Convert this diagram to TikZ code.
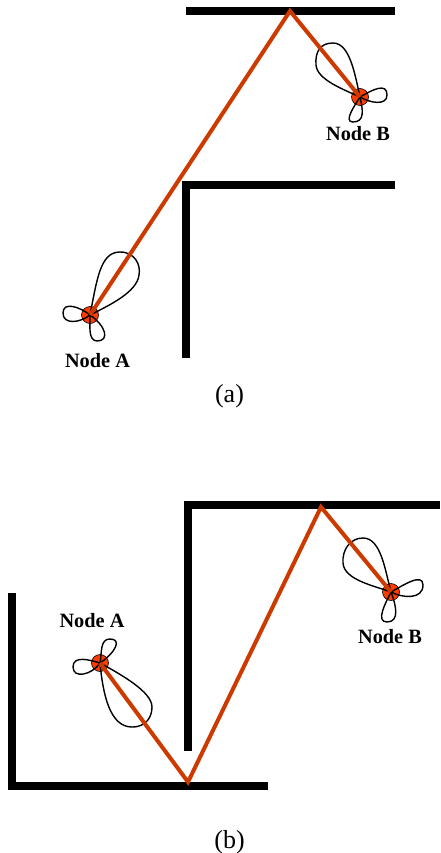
\documentclass[tikz,border=0pt]{standalone}
\usepackage{fontspec}
\setmainfont{Liberation Serif}
\definecolor{ray}{RGB}{204,58,0}
\definecolor{dot}{RGB}{250,60,5}
\tikzset{x=1pt,y=-1pt,
 wall/.style={line width=8pt,black},
 rayline/.style={line width=4pt,ray,line join=miter},
 lobe/.style={line width=1.4pt,black},
 antenna/.style={circle,fill=dot,draw=black,line width=0.6pt,minimum size=17pt,inner sep=0pt},
 nodelabel/.style={font=\bfseries\fontsize{20.3}{23}\selectfont,inner sep=0pt},
 caption/.style={font=\fontsize{26}{30}\selectfont,inner sep=0pt}}
\begin{document}
\begin{tikzpicture}
\useasboundingbox (0,0) rectangle (440,853);
% (a)
\draw[wall] (186,11) -- (395,11);
\draw[wall] (395,185) -- (186,185) -- (186,358);
\node[antenna] (a1) at (90,315) {};
\node[antenna] (b1) at (360,97) {};
\coordinate (r1) at (290,11);
\draw[lobe] (a1.center) .. controls (97,280) and (100,252) .. (120,252) .. controls (135,252) and (141,265) .. (139,275) .. controls (137,292) and (110,305) .. (a1.center);
\draw[lobe] (a1.center) .. controls (80,307) and (63,301) .. (63,313) .. controls (63,325) and (80,323) .. (a1.center);
\draw[lobe] (a1.center) .. controls (90,325) and (88,341) .. (97,341) .. controls (110,341) and (106,326) .. (a1.center);
\draw[lobe] (b1.center) .. controls (355,75) and (350,43) .. (333,43) .. controls (320,43) and (315,52) .. (316,65) .. controls (317,80) and (345,90) .. (b1.center);
\draw[lobe] (b1.center) .. controls (372,90) and (387,82) .. (387,95) .. controls (387,106) and (370,103) .. (b1.center);
\draw[lobe] (b1.center) .. controls (355,105) and (343,122) .. (353,122) .. controls (365,122) and (363,110) .. (b1.center);
\draw[rayline] (a1.center) -- (r1) -- (b1.center);
\node[nodelabel] (la1) at (97.5,361) {Node A};
\node[nodelabel] (lb1) at (358,134) {Node B};
\node[caption] (ca) at (229.5,396) {(a)};
% (b)
\draw[wall] (188,751) -- (188,505) -- (440,505);
\draw[wall] (12,593) -- (12,786) -- (268,786);
\node[antenna] (a2) at (100,663) {};
\node[antenna] (b2) at (391,592) {};
\coordinate (r2) at (188,782);
\coordinate (r3) at (321,507);
\draw[lobe] (a2.center) .. controls (102,652) and (100,639) .. (110,639) .. controls (122,639) and (116,652) .. (a2.center);
\draw[lobe] (a2.center) .. controls (90,660) and (73,655) .. (73,667) .. controls (73,679) and (92,675) .. (a2.center);
\draw[lobe] (a2.center) .. controls (103,695) and (110,727) .. (132,727) .. controls (147,727) and (152,716) .. (152,707) .. controls (152,692) and (122,675) .. (a2.center);
\draw[lobe] (b2.center) .. controls (385,570) and (381,538) .. (363,538) .. controls (350,538) and (342,550) .. (343,563) .. controls (344,580) and (375,586) .. (b2.center);
\draw[lobe] (b2.center) .. controls (386,602) and (375,622) .. (387,622) .. controls (400,622) and (396,605) .. (b2.center);
\draw[lobe] (b2.center) .. controls (402,586) and (423,572) .. (423,585) .. controls (423,600) and (402,598) .. (b2.center);
\draw[rayline] (a2.center) -- (r2) -- (r3) -- (b2.center);
\node[nodelabel] (la2) at (92,621) {Node A};
\node[nodelabel] (lb2) at (390,637) {Node B};
\node[caption] (cb) at (229.5,842) {(b)};
\end{tikzpicture}
\end{document}
